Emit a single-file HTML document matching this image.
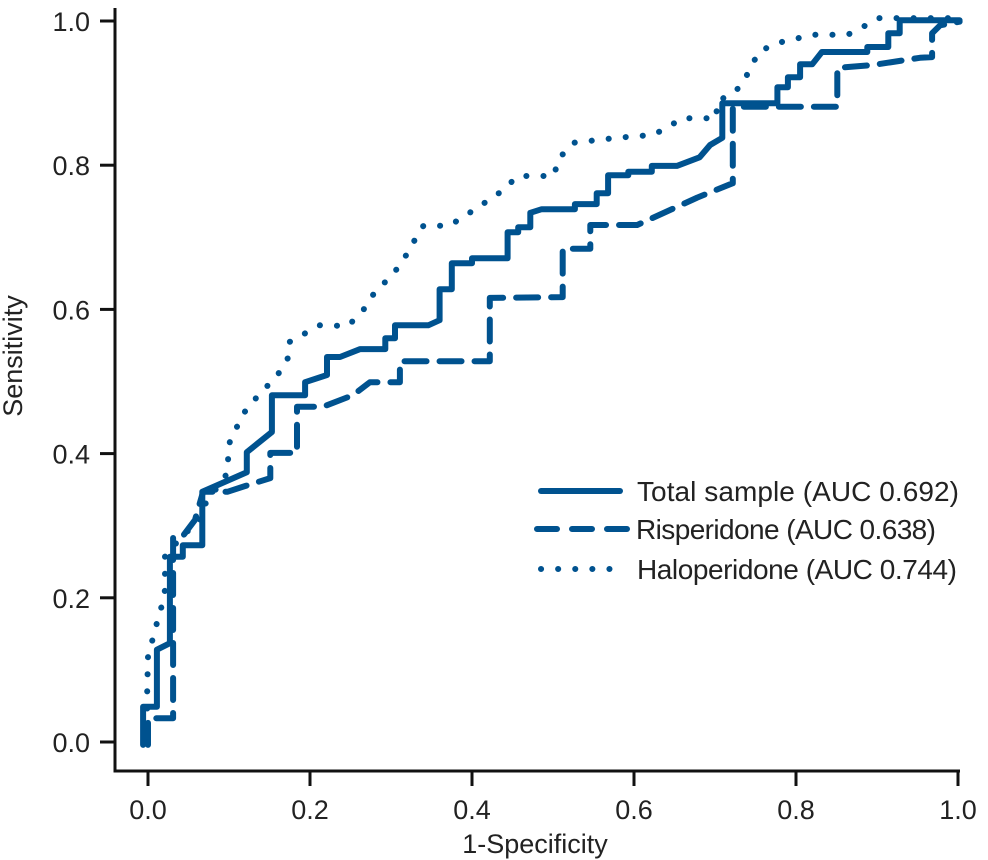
<!DOCTYPE html>
<html><head><meta charset="utf-8"><style>
body{margin:0;background:#fff}
svg{display:block;font-family:"Liberation Sans",sans-serif}
</style></head><body>
<svg id="chart" width="988" height="860" viewBox="0 0 988 860" xmlns="http://www.w3.org/2000/svg">
<g id="axes"></g>
<g id="series"></g>
<g id="legend"></g>
<text x="535" y="853" font-size="27" text-anchor="middle" fill="#222">1-Specificity</text>
<text transform="translate(22,356) rotate(-90)" font-size="27" text-anchor="middle" fill="#222">Sensitivity</text>
</svg>
<script>
const xTicks=[0,0.2,0.4,0.6,0.8,1.0];
const yTicks=[0,0.2,0.4,0.6,0.8,1.0];
const tickLabels=["0.0","0.2","0.4","0.6","0.8","1.0"];
const totalX=[-0.006,-0.006,0.011,0.011,0.027,0.027,0.043,0.043,0.067,0.067,0.122,0.122,0.153,0.153,0.194,0.194,0.221,0.221,0.237,0.262,0.293,0.293,0.305,0.305,0.346,0.360,0.360,0.375,0.375,0.400,0.400,0.444,0.444,0.457,0.457,0.472,0.472,0.486,0.527,0.527,0.554,0.554,0.568,0.568,0.593,0.593,0.622,0.622,0.653,0.681,0.694,0.709,0.709,0.777,0.777,0.790,0.790,0.805,0.805,0.820,0.832,0.888,0.888,0.914,0.914,0.928,0.928,1.002];
const totalY=[-0.004,0.049,0.049,0.128,0.137,0.257,0.257,0.273,0.273,0.347,0.374,0.402,0.430,0.481,0.481,0.499,0.509,0.534,0.534,0.545,0.545,0.560,0.560,0.578,0.578,0.585,0.628,0.628,0.664,0.664,0.671,0.671,0.707,0.707,0.714,0.714,0.734,0.739,0.739,0.746,0.746,0.761,0.761,0.786,0.786,0.791,0.791,0.799,0.799,0.811,0.828,0.838,0.886,0.886,0.908,0.908,0.922,0.922,0.940,0.940,0.957,0.957,0.964,0.964,0.983,0.983,1.001,1.001];
const risX=[0,0,0.031,0.031,0.042,0.058,0.068,0.098,0.120,0.151,0.151,0.184,0.184,0.216,0.253,0.274,0.311,0.311,0.422,0.422,0.512,0.512,0.546,0.546,0.604,0.678,0.722,0.722,0.851,0.851,0.895,0.953,0.968,0.968,0.978,1.002];
const risY=[-0.004,0.033,0.033,0.284,0.284,0.308,0.347,0.347,0.355,0.366,0.401,0.401,0.465,0.465,0.481,0.499,0.499,0.528,0.528,0.616,0.617,0.684,0.684,0.717,0.717,0.755,0.775,0.881,0.881,0.935,0.939,0.949,0.950,0.983,0.994,0.999];
const halX=[-0.001,-0.001,0,0.011,0.017,0.021,0.021,0.040,0.064,0.068,0.098,0.099,0.101,0.111,0.122,0.140,0.160,0.173,0.175,0.212,0.247,0.267,0.280,0.302,0.316,0.327,0.340,0.372,0.404,0.433,0.457,0.501,0.507,0.525,0.579,0.623,0.643,0.658,0.702,0.702,0.722,0.733,0.744,0.754,0.775,0.821,0.864,0.883,0.901,1.006];
const halY=[-0.001,0.072,0.118,0.165,0.189,0.211,0.257,0.283,0.308,0.326,0.373,0.395,0.416,0.440,0.463,0.485,0.509,0.533,0.555,0.578,0.577,0.601,0.624,0.648,0.670,0.692,0.716,0.716,0.739,0.761,0.785,0.785,0.809,0.831,0.838,0.842,0.853,0.865,0.865,0.888,0.900,0.911,0.935,0.957,0.969,0.981,0.981,0.992,1.004,1.004];
const legendLabels=["Total sample (AUC 0.692)","Risperidone (AUC 0.638)","Haloperidone (AUC 0.744)"];

const NS="http://www.w3.org/2000/svg";
const xs=v=>148+v*810, ys=v=>742-v*721;
const C="#00528f";
function mk(tag,attrs,parent){const e=document.createElementNS(NS,tag);for(const k in attrs)e.setAttribute(k,attrs[k]);parent.appendChild(e);return e;}
const ax=document.getElementById('axes');
let sp=mk('path',{d:'M115,8 V771 H960',fill:'none',stroke:'#111','stroke-width':3},ax);


xTicks.forEach((v,i)=>{
 let t=mk('line',{x1:xs(v),x2:xs(v),y1:771,y2:786,stroke:'#111','stroke-width':3},ax);
 
 
 let l=mk('text',{x:xs(v),y:819,'font-size':27,'text-anchor':'middle',fill:'#222'},ax);l.textContent=tickLabels[i];
 
 
});
yTicks.forEach((v,i)=>{
 let t=mk('line',{x1:100,x2:115,y1:ys(v),y2:ys(v),stroke:'#111','stroke-width':3},ax);
 
 
 let l=mk('text',{x:90,y:ys(v)+10,'font-size':27,'text-anchor':'end',fill:'#222'},ax);l.textContent=tickLabels[i];
 
 
});
const sg=document.getElementById('series');
const styles=[{dash:null},{dash:'22 13'},{dash:'0.1 17'}];
function line(X,Y,st,name){
 const pts=X.map((x,i)=>xs(x).toFixed(1)+','+ys(Y[i]).toFixed(1)).join(' ');
 const a={points:pts,fill:'none',stroke:C,'stroke-width':6,'stroke-linejoin':'round','stroke-linecap':'round'};
 if(st.dash)a['stroke-dasharray']=st.dash;
 const p=mk('polyline',a,sg);
 
 
}
line(risX,risY,styles[1],'risperidone-curve');
line(halX,halY,styles[2],'haloperidone-curve');
line(totalX,totalY,styles[0],'total-sample-curve');
const lg=document.getElementById('legend');
const ly=[491,529,569];
legendLabels.forEach((t,i)=>{
 const a={x1:i==1?537:541,x2:i==1?628:620,y1:ly[i],y2:ly[i],stroke:C,'stroke-width':6,'stroke-linecap':'round'};
 if(styles[i].dash)a['stroke-dasharray']=i==1?'20 15':'0.1 17';
 if(i==2){a.x1=541;a.x2=612;}
 const s=mk('line',a,lg);
 
 
 const tx=mk('text',{x:i==1?636:637,y:ly[i]+10,'font-size':28,'textLength':i==0?322:(i==1?300:320),fill:'#222'},lg);tx.textContent=t;
 
 
});
</script>
</body></html>
